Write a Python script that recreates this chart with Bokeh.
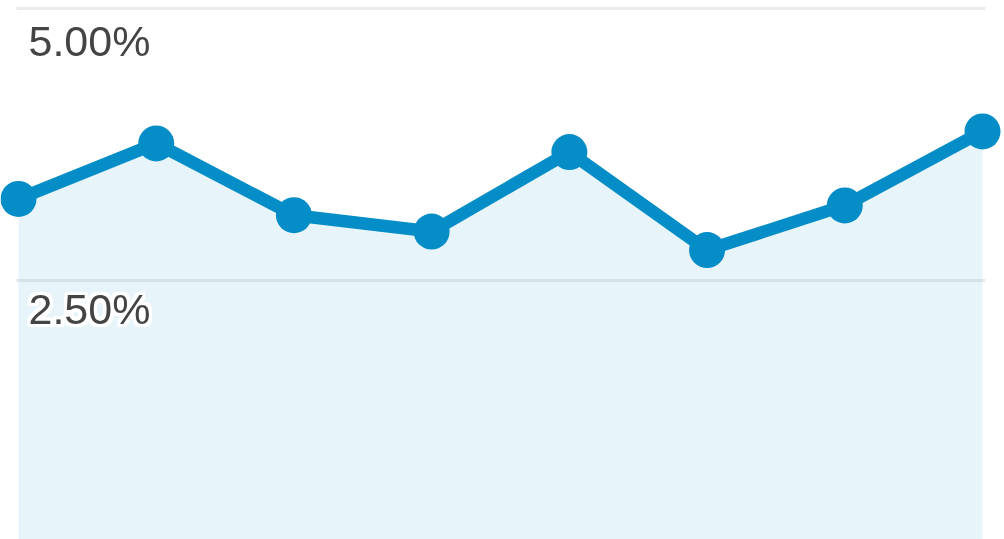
from bokeh.plotting import figure
from bokeh.models import Range1d, Label
from bokeh.embed import file_html
from bokeh.resources import INLINE

# data
periods = [0, 1, 2, 3, 4, 5, 6, 7]
rate = [3.25, 3.76, 3.10, 2.95, 3.68, 2.78, 3.19, 3.87]
tick_values = [2.5, 5.0]
tick_labels = ["2.50%", "5.00%"]

W, H = 1004, 539
px_per_idx = (982 - 18) / 7.0
px_per_pct = 272 / 2.5
x0 = -18 / px_per_idx
x1 = 7 + (W - 982) / px_per_idx
y1 = 5.0 + 8 / px_per_pct
y0 = 5.0 - (H - 8) / px_per_pct

p = figure(width=W, height=H, output_backend="svg", toolbar_location=None,
           min_border=0, x_range=Range1d(x0, x1), y_range=Range1d(y0, y1),
           styles={"position": "fixed", "left": "0px", "top": "0px"})
p.outline_line_color = None
p.xaxis.visible = False
p.yaxis.visible = False
p.xgrid.visible = False
p.ygrid.visible = False
p.background_fill_color = "white"
p.border_fill_color = "white"

for tv in tick_values:
    p.segment(x0=periods[0] - 0.015, x1=periods[-1] + 0.022, y0=tv, y1=tv,
              line_color="#ebebeb", line_width=3)

p.varea(x=periods, y1=[0] * len(rate), y2=rate, fill_color="#058dc7", fill_alpha=0.095)
p.line(periods, rate, line_color="#058dc7", line_width=12.5)
p.scatter(periods, rate, size=36, fill_color="#058dc7", line_color=None)

halo = [(dx, dy) for dx in (-3, -2, 0, 2, 3) for dy in (-3, -2, 0, 2, 3) if (dx, dy) != (0, 0)]
for tv, tl in zip(tick_values, tick_labels):
    off = -32 if tv >= 5 else -28
    common = dict(x=28, x_units="screen", y=tv, text=tl,
                  text_font="Liberation Sans", text_font_size="43px",
                  text_baseline="alphabetic")
    if tv < 5:
        for dx, dy in halo:
            p.add_layout(Label(x_offset=dx, y_offset=off + dy, text_color="white", **common))
    p.add_layout(Label(y_offset=off, text_color="#444444", **common))

open("out.html", "w").write(file_html(p, INLINE))
